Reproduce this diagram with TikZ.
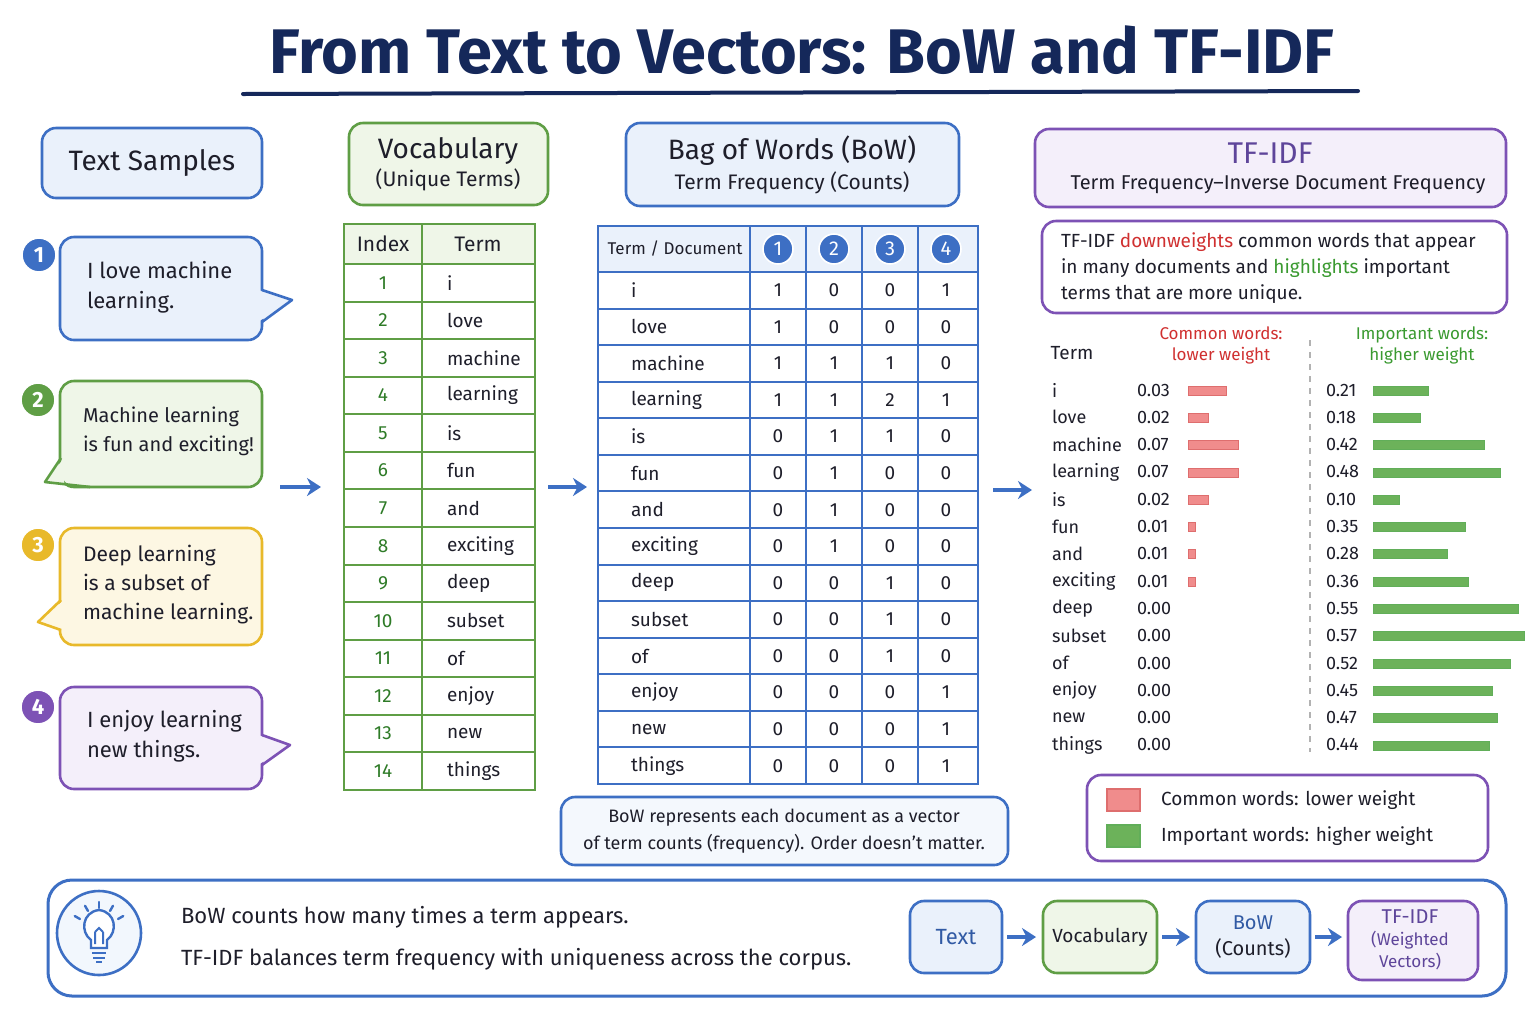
\documentclass[tikz,border=0pt]{standalone}
\usepackage{fontspec}
\setmainfont{Fira Sans}
\usetikzlibrary{arrows.meta,calc}
\definecolor{navy}{HTML}{15285A}
\definecolor{blueB}{HTML}{3D6FC4}\definecolor{blueF}{HTML}{EAF1FB}
\definecolor{greenB}{HTML}{5F9E45}\definecolor{greenF}{HTML}{EFF6E8}
\definecolor{yellowB}{HTML}{E8B92A}\definecolor{yellowF}{HTML}{FDF7E3}
\definecolor{purpleB}{HTML}{7D52B5}\definecolor{purpleF}{HTML}{F4EFFA}
\definecolor{redT}{HTML}{D03030}\definecolor{greenT}{HTML}{3A9A30}
\definecolor{redbar}{HTML}{F08C8C}\definecolor{greenbar}{HTML}{6CB25A}
\definecolor{ink}{HTML}{1E1E2A}
\begin{document}
\begin{tikzpicture}[x=0.5pt,y=-0.5pt,
  box/.style={draw=#1B,fill=#1F,line width=1.3pt,rounded corners=7pt},
  txt/.style={font=\fontsize{9.5}{12}\selectfont,text=ink},
  big/.style={font=\fontsize{14}{16}\selectfont,text=ink},
  arr/.style={-{Stealth[length=7pt,width=9pt]},line width=2.2pt,draw=blueB},
  num/.style={circle,fill=#1B,draw=white,line width=0.8pt,minimum size=17pt,inner sep=0pt,text=white,font=\fontsize{11}{11}\selectfont\bfseries},
  grid/.style={line width=1pt}]
\useasboundingbox (0,0) rectangle (1536,1024);
\fill[white] (0,0) rectangle (1536,1024);
% title
\node[font=\fontsize{31.5}{36}\selectfont\bfseries,text=navy] (title) at (802,50) {From Text to Vectors: BoW and TF-IDF};
\draw[navy,line width=2pt,line cap=round] (243,94) -- (1358,91);
% text samples
\draw[box=blue] (42,128) rectangle (262,198);
\node[big] (ts) at (152,163) {Text Samples};
\foreach \c/\ya/\yb/\n [count=\k] in {blue/237/340/1,green/381/487/2,yellow/528/645/3,purple/687/789/4}{
  \draw[box=\c] (60,\ya) rectangle (262,\yb);
}
% tails
\fill[blueF] (258,290) -- (292,300) -- (258,322) -- cycle;
\draw[blueB,line width=1.3pt,line join=round] (262,290) -- (292,300) -- (262,322);
\fill[greenF] (64,458) -- (45,482) -- (90,484) -- (64,484) -- cycle;
\draw[greenB,line width=1.3pt,line join=round] (61,458) -- (45,482) -- (90,487);
\fill[yellowF] (64,600) -- (38,622) -- (64,630) -- cycle;
\draw[yellowB,line width=1.3pt,line join=round] (61,600) -- (38,622) -- (61,630);
\fill[purpleF] (258,735) -- (290,745) -- (258,765) -- cycle;
\draw[purpleB,line width=1.3pt,line join=round] (262,735) -- (290,745) -- (262,765);
\node[num=blue] (n1) at (39,255) {1};
\node[num=green] (n2) at (38,400) {2};
\node[num=yellow] (n3) at (38,545) {3};
\node[num=purple] (n4) at (38,707) {4};
\node[txt,align=left,anchor=west,font=\fontsize{11}{15}\selectfont] (s1) at (80,287) {I love machine\\learning.};
\node[txt,align=left,anchor=west,font=\fontsize{10}{14.5}\selectfont] (s2) at (76,431) {Machine learning\\is fun and exciting!};
\node[txt,align=left,anchor=west,font=\fontsize{10.5}{14.5}\selectfont] (s3) at (76,585) {Deep learning\\is a subset of\\machine learning.};
\node[txt,align=left,anchor=west,font=\fontsize{11}{15}\selectfont] (s4) at (80,736) {I enjoy learning\\new things.};
% vocabulary header
\draw[box=green] (349,123) rectangle (548,205);
\node[big,align=center] (voc) at (448,164) {Vocabulary\\[-2pt]{\fontsize{10.5}{12}\selectfont (Unique Terms)}};
% vocab table
\fill[greenF] (344,224) rectangle (535,264);
\draw[greenB,grid] (344,224) rectangle (535,790);
\draw[greenB,grid] (422,224) -- (422,790);
\foreach \i in {0,...,13}{\draw[greenB,grid] (344,{264+37.57*\i}) -- (535,{264+37.57*\i});}
\node[txt,font=\fontsize{10.5}{12}\selectfont] (vh1) at (383,244) {Index};
\node[txt,font=\fontsize{10.5}{12}\selectfont] (vh2) at (478,244) {Term};
\foreach \t [count=\k] in {i,love,machine,learning,is,fun,and,exciting,deep,subset,of,enjoy,new,things}{
  \node[txt,text=greenT!80!black] (vi\k) at (383,{264+37.57*(\k-0.5)}) {\k};
  \node[txt,anchor=west] (vt\k) at (440,{264+37.57*(\k-0.5)}) {\t};
}
% arrows
\coordinate (a1s) at (280,487);\coordinate (a1e) at (321,487);
\draw[arr] (a1s) -- (a1e);
\coordinate (a2s) at (548,487);\coordinate (a2e) at (587,487);
\draw[arr] (a2s) -- (a2e);
\coordinate (a3s) at (993,490);\coordinate (a3e) at (1032,490);
\draw[arr] (a3s) -- (a3e);
% BoW header
\draw[box=blue] (626,123) rectangle (959,206);
\node[big,align=center] (bowh) at (792,165) {Bag of Words (BoW)\\[-1pt]{\fontsize{10.5}{12}\selectfont Term Frequency (Counts)}};
% BoW table
\fill[blueF] (598,226) rectangle (978,272);
\draw[blueB,grid] (598,226) rectangle (978,784);
\foreach \x in {750,806,862,918}{\draw[blueB,grid] (\x,226) -- (\x,784);}
\foreach \i in {0,...,13}{\draw[blueB,grid] (598,{272+36.57*\i}) -- (978,{272+36.57*\i});}
\node[txt,font=\fontsize{8.5}{10}\selectfont] (bh) at (675,249) {Term / Document};
\foreach \x [count=\k] in {778,834,890,946}{\node[num=blue,minimum size=15pt,font=\fontsize{10}{10}\selectfont] (bn\k) at (\x,249) {\k};}
\foreach \t/\a/\b/\c/\d [count=\k] in {i/1/0/0/1,love/1/0/0/0,machine/1/1/1/0,learning/1/1/2/1,is/0/1/1/0,fun/0/1/0/0,and/0/1/0/0,exciting/0/1/0/0,deep/0/0/1/0,subset/0/0/1/0,of/0/0/1/0,enjoy/0/0/0/1,new/0/0/0/1,things/0/0/0/1}{
  \pgfmathsetmacro\yy{272+36.57*(\k-0.5)}
  \node[txt,anchor=west] (bt\k) at (624,\yy) {\t};
  \node[txt] (ba\k) at (778,\yy) {\a};
  \node[txt] (bb\k) at (834,\yy) {\b};
  \node[txt] (bc\k) at (890,\yy) {\c};
  \node[txt] (bd\k) at (946,\yy) {\d};
}
\draw[box=blue,fill=blueF!50] (561,797) rectangle (1008,865);
\node[txt,align=center,font=\fontsize{9}{13.5}\selectfont] (bnote) at (784,831) {BoW represents each document as a vector\\of term counts (frequency). Order doesn’t matter.};
% TF-IDF header
\draw[box=purple] (1035,129) rectangle (1506,207);
\node[font=\fontsize{15}{17}\selectfont,text=purpleB!70!navy] (tfh) at (1270,153) {TF-IDF};
\node[txt,font=\fontsize{10}{12}\selectfont] (tfs) at (1278,185) {Term Frequency–Inverse Document Frequency};
\draw[box=purple,fill=white] (1042,221) rectangle (1507,313);
\node[txt,align=left,anchor=west,font=\fontsize{9.5}{13}\selectfont] (desc) at (1054,268) {TF-IDF \textcolor{redT}{downweights} common words that appear\\in many documents and \textcolor{greenT}{highlights} important\\terms that are more unique.};
\node[txt] (tterm) at (1072,353) {Term};
\node[txt,text=redT,align=center,font=\fontsize{8.5}{10.5}\selectfont] (tcom) at (1221,345) {Common words:\\lower weight};
\node[txt,text=greenT,align=center,font=\fontsize{8.5}{10.5}\selectfont] (timp) at (1422,345) {Important words:\\higher weight};
\draw[gray!60,line width=0.8pt,dashed] (1310,340) -- (1310,752);
\foreach \t/\r/\rw/\g [count=\k] in {i/0.03/38/0.21,love/0.02/20/0.18,machine/0.07/50/0.42,learning/0.07/50/0.48,is/0.02/20/0.10,fun/0.01/7/0.35,and/0.01/7/0.28,exciting/0.01/7/0.36,deep/0.00/0/0.55,subset/0.00/0/0.57,of/0.00/0/0.52,enjoy/0.00/0/0.45,new/0.00/0/0.47,things/0.00/0/0.44}{
  \pgfmathsetmacro\yy{390+27.3*(\k-1)}
  \node[txt,anchor=west,font=\fontsize{9}{11}\selectfont] (tt\k) at (1045,\yy) {\t};
  \node[txt,anchor=west,font=\fontsize{9}{11}\selectfont] (tr\k) at (1130,\yy) {\r};
  \ifdim\rw pt>0pt \fill[redbar,draw=redT!70,line width=0.4pt] (1188,\yy-4) rectangle ++(\rw,9);\fi
  \node[txt,anchor=west,font=\fontsize{9}{11}\selectfont] (tg\k) at (1319,\yy) {\g};
  \pgfmathsetmacro\gw{\g*265}
  \fill[greenbar,draw=greenT!80,line width=0.4pt] (1373,\yy-4) rectangle ++(\gw,9);
}
% legend
\draw[box=purple,fill=white] (1087,775) rectangle (1488,861);
\fill[redbar,draw=redT!70,line width=0.6pt] (1107,789) rectangle (1140,811);
\fill[greenbar,draw=greenT!80,line width=0.6pt] (1107,825) rectangle (1140,847);
\node[txt,anchor=west] (l1) at (1154,800) {Common words: lower weight};
\node[txt,anchor=west] (l2) at (1154,836) {Important words: higher weight};
% bottom
\draw[blueB,line width=1.5pt,rounded corners=12pt,fill=white] (48,880) rectangle (1506,996);
\draw[blueB,line width=1.3pt,fill=blueF!60] (99,933) circle (42);
% bulb
\draw[blueB,line width=1.2pt,fill=white] (91,948) -- (91,940) .. controls (80,932) and (82,912) .. (99,910) .. controls (116,912) and (118,932) .. (107,940) -- (107,948) -- cycle;
\draw[blueB,line width=1.2pt] (92,953) -- (106,953) (93,958) -- (105,958) (96,962) -- (102,962);
\draw[blueB,line width=1pt] (95,944) -- (95,932) (103,944) -- (103,932) (95,932) -- (99,928) -- (103,932);
\foreach \a in {-150,-120,-90,-60,-30}{\draw[blueB,line width=1.2pt,line cap=round] ($(99,930)+(\a:22)$) -- ($(99,930)+(\a:28)$);}
\node[txt,anchor=west,font=\fontsize{11}{13}\selectfont] (b1) at (174,917) {BoW counts how many times a term appears.};
\node[txt,anchor=west,font=\fontsize{11}{13}\selectfont] (b2) at (174,959) {TF-IDF balances term frequency with uniqueness across the corpus.};
\draw[box=blue] (910,901) rectangle (1002,973); \node[txt,font=\fontsize{11}{13}\selectfont,text=blueB!70!navy] (f1) at (956,937) {Text};
\draw[box=green] (1043,901) rectangle (1157,973); \node[txt,font=\fontsize{9.5}{12}\selectfont] (f2) at (1100,937) {Vocabulary};
\draw[box=blue] (1196,901) rectangle (1310,973); \node[txt,align=center,font=\fontsize{10}{13}\selectfont] (f3) at (1253,937) {\textcolor{blueB!70!navy}{BoW}\\(Counts)};
\draw[box=purple] (1348,901) rectangle (1478,980); \node[txt,align=center,font=\fontsize{10}{11}\selectfont,text=purpleB!70!navy] (f4) at (1410,940) {TF-IDF\\{\fontsize{8.5}{10}\selectfont (Weighted}\\{\fontsize{8.5}{10}\selectfont Vectors)}};
\draw[arr] (1007,937) -- (1036,937);
\draw[arr] (1162,937) -- (1190,937);
\draw[arr] (1315,937) -- (1342,937);
\end{tikzpicture}
\end{document}
